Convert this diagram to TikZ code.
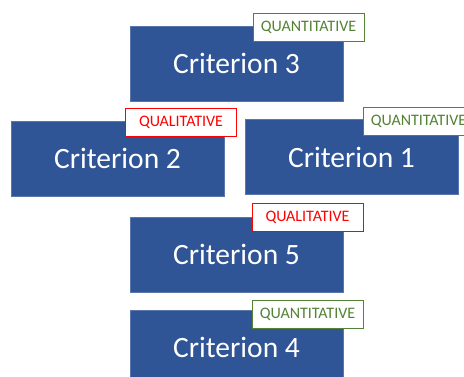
\documentclass[tikz,border=0pt]{standalone}
\usepackage{fontspec}
\setmainfont{Carlito}
\definecolor{critblue}{RGB}{47,85,151}
\definecolor{quantgreen}{RGB}{84,130,53}
\definecolor{qualred}{RGB}{255,0,0}
\tikzset{
	crit/.style={fill=critblue, draw=critblue!80!white, text=white, minimum width=213pt, minimum height=75pt, inner sep=0pt, font=\fontsize{29.5}{29.5}\selectfont},
	tag/.style={fill=white, line width=1pt, minimum width=111pt, minimum height=28pt, inner sep=0pt, font=\fontsize{16}{16}\selectfont},
	quant/.style={tag, draw=quantgreen, text=quantgreen},
	qual/.style={tag, draw=qualred, text=qualred}
}
\begin{document}
\begin{tikzpicture}[x=1pt,y=-1pt]
	\useasboundingbox (0,0) rectangle (464,376);
	\clip (0,0) rectangle (464,376);
	\node[crit](c3) at (236.5,63.5) {Criterion 3};
	\node[crit](c2) at (117.5,158.5) {Criterion 2};
	\node[crit](c1) at (351.5,157) {Criterion 1};
	\node[crit](c5) at (236.5,254.5) {Criterion 5};
	\node[crit](c4) at (236.5,347.5) {Criterion 4};
	%tags
	\node[quant](t3) at (308.5,27) {QUANTITATIVE};
	\node[qual](t2) at (181,122) {QUALITATIVE};
	\node[quant](t1) at (418.5,121) {QUANTITATIVE};
	\node[qual](t5) at (307.5,217) {QUALITATIVE};
	\node[quant](t4) at (307.5,314) {QUANTITATIVE};
\end{tikzpicture}
\end{document}
